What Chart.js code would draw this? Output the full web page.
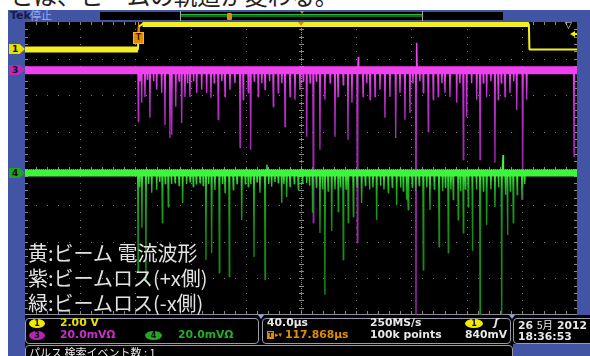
<!DOCTYPE html>
<html lang="ja">
<head>
<meta charset="utf-8">
<title>ビームロス波形</title>
<script src="https://cdn.jsdelivr.net/npm/chart.js@4.4.1/dist/chart.umd.min.js"></script>
<style>
  html, body { margin: 0; padding: 0; background: #fff; }
  #scope { position: relative; width: 590px; height: 356px; overflow: hidden; background: #fff; }
  #scope div, #scope span.abs { position: absolute; white-space: nowrap; }
  canvas { position: absolute; left: 0; top: 0; }
  .ui { font-family: "DejaVu Sans", sans-serif; font-weight: bold; font-size: 10.8px; line-height: 12px; }
  #caption { left: 10px; top: -17px; font: 23.5px/24px "Noto Sans CJK JP", sans-serif; color: #222; }
  #frame { left: 8px; top: 10px; width: 582px; height: 346px; background: #4254a4; }
  #statusBg { left: 25px; top: 315px; width: 565px; height: 29px; background: #000; }
  #statusBg2 { left: 25px; top: 343px; width: 488px; height: 13px; background: #000; }
  .box { border: 1px solid #9a9aa8; border-radius: 4px; background: #000; box-sizing: border-box; }
  .legend { left: 28px; font: 20px/24px "Noto Sans CJK JP", sans-serif; color: #e2e2e2; }
  .tag { width: 16px; height: 10px; font: bold 9px/10px "DejaVu Sans", sans-serif; color: #111; text-indent: 3px;
         clip-path: polygon(0 0, 66% 0, 100% 50%, 66% 100%, 0 100%); }
  .oval { height: 9px; border-radius: 50%; font: bold 8px/9px "DejaVu Sans", sans-serif; color: #111; text-align: center; }
</style>
</head>
<body>
<div id="scope">
  <div id="caption">とは、ビームの軌道が変わる。</div>
  <div id="frame"></div>
  <div id="statusBg"></div>
  <div id="statusBg2"></div>

  <!-- header: brand, run state, record view -->
  <div class="ui" style="left:10px;top:10px;color:#161b44;font-size:11px;">Tek</div>
  <div style="left:30px;top:9px;color:#9aaaf8;font:11px/13px 'Noto Sans CJK JP',sans-serif;">停止</div>
  <div style="left:100px;top:12px;width:403px;height:8px;background:#000;"></div>
  <div style="left:180px;top:11px;width:1px;height:10px;background:#a8a8a8;"></div>
  <div style="left:422px;top:11px;width:1px;height:10px;background:#a8a8a8;"></div>
  <div style="left:181px;top:14px;width:241px;height:1px;background:#36b036;"></div>
  <div style="left:181px;top:15px;width:241px;height:2px;background:#0e6e12;"></div>
  <div style="left:227px;top:13px;width:5px;height:7px;background:#e48c00;border-radius:1px;"></div>
  <div style="left:300px;top:11px;width:0;height:0;border-left:2px solid transparent;border-right:2px solid transparent;border-top:3px solid #e48c00;"></div>

  <!-- status boxes -->
  <div class="box" style="left:25px;top:318px;width:234px;height:26px;"></div>
  <div class="box" style="left:262px;top:318px;width:249px;height:26px;"></div>
  <div class="box" style="left:513px;top:318px;width:90px;height:26px;"></div>
  <div class="box" style="left:25px;top:345px;width:488px;height:20px;"></div>
  <div style="left:258px;top:315px;width:0;height:0;border-left:3px solid transparent;border-right:3px solid transparent;border-top:4px solid #8f9de8;"></div>
  <div style="left:509px;top:315px;width:0;height:0;border-left:3px solid transparent;border-right:3px solid transparent;border-top:4px solid #8f9de8;"></div>

  <canvas id="screen" width="590" height="356"></canvas>

  <!-- waveform captions -->
  <div class="legend" style="top:241px;">黄:ビーム 電流波形</div>
  <div class="legend" style="top:266px;">紫:ビームロス(+x側)</div>
  <div class="legend" style="top:291px;">緑:ビームロス(-x側)</div>

  <!-- channel ground markers (placed from the y scale) -->
  <div class="tag" id="tag1" style="left:9px;background:#e6e000;">1</div>
  <div class="tag" id="tag3" style="left:9px;background:#b82cb8;">3</div>
  <div class="tag" id="tag4" style="left:9px;background:#24a024;">4</div>

  <!-- trigger markers -->
  <div id="trigStem" style="top:22px;width:1px;height:10px;background:#e48c00;"></div>
  <div id="trigT" class="ui" style="top:32px;width:9px;height:10px;background:#e48c00;border:1px solid #ffb030;color:#3a2000;font-size:8px;line-height:10px;text-align:center;">T</div>
  <div id="expand" style="top:22px;width:0;height:0;border-left:3px solid transparent;border-right:3px solid transparent;border-top:4px solid #e48c00;"></div>
  <div style="left:565px;top:20px;color:#e8e8e8;font:9px/10px 'DejaVu Sans',sans-serif;">▽</div>
  <div id="trigLevel" style="left:570px;width:0;height:0;border-top:3px solid transparent;border-bottom:3px solid transparent;border-right:5px solid #f0f000;"></div>
  <div id="trigLevelBar" style="left:574px;width:3px;height:2px;background:#f0f000;"></div>

  <!-- vertical settings -->
  <div class="oval" style="left:29px;top:319px;width:16px;background:#f0ec00;">1</div>
  <div class="ui" style="left:60px;top:317px;color:#e6e200;">2.00 V</div>
  <div class="oval" style="left:29px;top:331px;width:16px;background:#b424b4;">3</div>
  <div class="ui" style="left:60px;top:329px;color:#cc2ccc;">20.0mVΩ</div>
  <div class="oval" style="left:145px;top:331px;width:17px;background:#22a822;">4</div>
  <div class="ui" style="left:178px;top:329px;color:#22b022;">20.0mVΩ</div>

  <!-- horizontal and trigger settings -->
  <div class="ui" style="left:267px;top:317px;color:#e8e8e8;">40.0µs</div>
  <div class="ui" style="left:370px;top:317px;color:#e8e8e8;">250MS/s</div>
  <div class="oval" style="left:465px;top:319px;width:18px;background:#f0ec00;">1</div>
  <div class="ui" style="left:494px;top:317px;color:#e8e8e8;font-style:italic;">ʃ</div>
  <div class="ui" style="left:267px;top:331px;width:7px;height:8px;background:#e48c00;color:#2a1800;font-size:7px;line-height:8px;text-align:center;">T</div>
  <div class="ui" style="left:275px;top:329px;color:#e48c00;font-size:7px;">▸▾</div>
  <div class="ui" style="left:285px;top:329px;color:#e48c00;">117.868µs</div>
  <div class="ui" style="left:370px;top:329px;color:#e8e8e8;">100k points</div>
  <div class="ui" style="left:465px;top:329px;color:#e8e8e8;">840mV</div>

  <!-- date / time -->
  <div class="ui" style="left:518px;top:317px;color:#e8e8e8;">26 <span style="font:10.5px 'Noto Sans CJK JP',sans-serif;">5月</span>  2012</div>
  <div class="ui" style="left:518px;top:331px;color:#e8e8e8;">18:36:53</div>

  <div style="left:29px;top:346px;color:#e8e8e8;font:11px/12px 'Noto Sans CJK JP',sans-serif;">パルス 検索イベント数 : 1</div>
</div>

<script>
// Timebase: 40 µs/div over 10 divisions, trigger point 117.868 µs left of centre
const TIME_PER_DIV_US = 40;
const TRIGGER_POSITION_US = 117.868;
const X_MIN = TRIGGER_POSITION_US - 5 * TIME_PER_DIV_US;
const X_MAX = TRIGGER_POSITION_US + 5 * TIME_PER_DIV_US;

// Vertical settings (divisions from screen centre for each channel's ground)
const CH1_VOLTS_PER_DIV = 2.0;
const CH3_MV_PER_DIV = 20;
const CH4_MV_PER_DIV = 20;
const CH1_OFFSET_DIV = 3.25;
const CH3_OFFSET_DIV = 2.68;
const CH4_OFFSET_DIV = -0.12;
const TRIGGER_LEVEL_V = 0.84;

// Ch1: beam current pulse
const yellowTimesUs = [X_MIN, -0.3, 0.3, 3.0, 283.0, 283.4, X_MAX];
const yellowVolts   = [0, 0, 1.25, 1.39, 1.39, 0, 0];

// Ch3: beam loss, +x side (spike times and peak levels)
const magentaSpikeTimesUs = [
  0.0, 1.2, 2.4, 4.8, 6.5, 8.4, 11.0, 13.3, 16.9, 19.3, 22.9, 24.2, 27.1, 29.5, 31.4, 33.8, 35.6, 37.4, 40.0, 42.3,
  45.9, 49.5, 52.6, 55.0, 57.9, 60.5, 62.8, 66.4, 70.0, 73.7, 76.0, 79.7, 81.4, 84.0, 86.9, 89.5, 91.8, 95.0, 97.8,
  101.4, 104.0, 106.3, 109.9, 113.5, 117.1, 119.5, 122.0, 124.5, 126.8, 129.0, 131.6, 135.2, 139.0, 142.5, 144.7,
  148.5, 151.9, 154.8, 158.7, 159.4, 162.8, 165.5, 167.9, 171.5, 175.1, 178.7, 182.3, 186.5, 189.6, 193.2, 196.8,
  199.0, 201.2, 201.8, 204.0, 206.5, 210.1, 213.7, 217.3, 220.0, 222.2, 225.8, 230.7, 233.0, 235.5, 237.9, 241.5,
  245.2, 247.6, 250.0, 252.4, 255.5, 258.4, 260.8, 263.0, 265.7, 269.3, 272.0, 274.2, 278.5, 281.4, 315.7
];
const magentaSpikeMv = [
  -28.1, -6, -17.7, -14.5, -5, -25.9, -6, -10.6, -12.3, -29.8, -36.9, -35.2, -19.9, -6, -28.7, -14.5, -7, -14.5, -6, -12.3,
  -10.6, -12.3, -15.0, -7, -27.0, -6, -14.5, -10.6, -7, -42.3, -16.1, -12.3, -43.4, -6, -14.5, -7, -10.6, -6, -19.9,
  -12.3, -7, -30.8, -14.5, -16.1, -10.6, -6, -36.3, -7, -83.3, -6, -43.4, -16.1, -7, -36.3, -14.5,
  -8, -37.9, -17.7, -94.2, 7.4, -14.5, -7, -16.1, -14.5, -10.6, -25.9, -14.5, -36.9, -12.3, -27.0, -23.2,
  -7, -140, 15.0, -6, -12.3, -33.6, -16.1, -14.5, -7, -12.3, -14.5, -17.7, -7, -48.9, -25.4, -7,
  -16.1, -48.9, -7, -14.5, -6, -50.5, -16.1, -7, -14.5, -12.3, -6, -21.6, -70.7, -16.1, -47.2
];

// Ch4: beam loss, -x side
const greenSpikeTimesUs = [
  -0.2, 1.0, 2.6, 5.5, 7.5, 9.7, 13.3, 15.5, 17.4, 19.5, 21.7, 24.0, 26.6, 29.5, 32.1, 35.0, 37.5, 39.8, 42.0, 44.7,
  47.0, 49.0, 51.0, 53.1, 55.5, 58.7, 61.0, 62.8, 65.9, 68.8, 71.5, 74.9, 77.5, 79.7, 81.5, 83.8, 86.0, 88.1, 91.8,
  93.2, 94.5, 96.6, 99.0, 101.4, 103.9, 105.5, 107.5, 109.9, 113.0, 115.9, 119.0, 122.0, 124.0, 126.3, 129.0, 131.6,
  133.5, 135.2, 137.5, 140.1, 142.5, 144.9, 146.5, 148.5, 150.5, 152.1, 155.8, 158.5, 161.8, 164.5, 167.5, 170.0,
  172.7, 175.5, 178.0, 181.1, 184.0, 187.2, 190.0, 192.0, 194.4, 195.6, 198.5, 201.0, 203.5, 206.5, 209.0, 211.3,
  214.5, 217.9, 220.5, 222.5, 224.6, 226.5, 228.2, 231.8, 233.5, 235.5, 237.0, 239.1, 242.1, 245.0, 247.6, 250.0,
  252.4, 255.5, 258.4, 261.0, 263.3, 264.3, 266.0, 267.5, 269.5, 271.7, 274.5, 278.0, 280.0
];
const greenSpikeMv = [
  -54.1, -8, -30.0, -58.4, -6, -10.9, -9.3, -5, -27.3, -6, -18.6, -6, -5.5, -7, -16.4, -6, -5, -7.6, -6, -5.5,
  -7, -47.5, -6, -43.7, -9.3, -54.6, -6, -10.9, -56.8, -9.3, -6, -25.7, -6, -7.6, -6, -45.9, -5, -10.9, -58.4,
  4.4, -6, -7.6, -5, -5.5, -16.4, -6, -13.1, -7.6, -6, -9.3, -6, -5.5, -7, -21.8, -8, -32.8,
  -9, -66.6, -10, -31.7, -9, -21.3, -8, -47.5, -9, -27.3, -24.0, -8, -16.4, -7, -9, -8,
  -25.7, -7, -9, -10.9, -8, -17.5, -8, -10, -14.7, -20.2, -8, -10, -7, -53.0, -8, -20.2,
  -9, -40.4, -10, -8, -43.7, -9, -14.7, -25.7, -10, -32.8, -9, -18.6, -42.6, -9, -80, -10,
  -28.4, -9, -18.6, -8, -80, 9.8, -12, -33.9, -10, -27.3, -12, -14.7, -6
];

// Each spike is drawn as a narrow down-and-back excursion from the channel's ground level
function spikeTrace(times, levels, offsetDiv, perDiv) {
  const pts = [{ x: X_MIN, y: offsetDiv }];
  times.forEach((t, i) => {
    pts.push({ x: t - 0.3, y: offsetDiv },
             { x: t, y: offsetDiv + levels[i] / perDiv },
             { x: t + 0.3, y: offsetDiv });
  });
  pts.push({ x: X_MAX, y: offsetDiv });
  return pts;
}

const yellowTrace = yellowTimesUs.map((t, i) => ({ x: t, y: CH1_OFFSET_DIV + yellowVolts[i] / CH1_VOLTS_PER_DIV }));
// thick flat levels only; the edges stay thin
const yellowLevels = yellowTrace.map((p, i) => (i === 2 || i === 5) ? { x: p.x, y: null } : p);

function spikeGradient(offsetDiv, colors, reach) {
  return (ctx) => {
    const chart = ctx.chart;
    if (!chart.chartArea) return colors[1];
    const base = chart.scales.y.getPixelForValue(offsetDiv);
    const g = chart.ctx.createLinearGradient(0, base, 0, base + reach);
    g.addColorStop(0, colors[0]);
    g.addColorStop(0.3, colors[1]);
    g.addColorStop(1, colors[2]);
    return g;
  };
}

const graticule = {
  id: 'graticule',
  beforeDraw(chart) {
    const { ctx, chartArea: a, scales: { x, y } } = chart;
    ctx.save();
    ctx.fillStyle = '#000';
    ctx.fillRect(a.left, a.top, a.width, a.height);
    const dx = a.width / 10, dy = a.height / 8;
    ctx.fillStyle = 'rgba(125,125,125,0.95)';
    for (let i = 1; i < 10; i++) {
      if (i === 5) continue;
      const px = Math.round(x.getPixelForValue(X_MIN + i * TIME_PER_DIV_US));
      for (let k = 1; k < 40; k++) ctx.fillRect(px, Math.round(a.top + k * dy / 5), 1, 1);
    }
    for (let j = -3; j <= 3; j++) {
      if (j === 0) continue;
      const py = Math.round(y.getPixelForValue(j));
      for (let k = 1; k < 50; k++) ctx.fillRect(Math.round(a.left + k * dx / 5), py, 1, 1);
    }
    // centre cross with minor ticks
    const cx = Math.round(x.getPixelForValue(TRIGGER_POSITION_US));
    const cy = Math.round(y.getPixelForValue(0));
    ctx.fillStyle = 'rgba(150,150,150,0.9)';
    for (let py = a.top; py < a.bottom; py += 2) ctx.fillRect(cx, Math.round(py), 1, 1);
    for (let px = a.left; px < a.right; px += 2) ctx.fillRect(Math.round(px), cy, 1, 1);
    for (let k = 1; k < 40; k++) ctx.fillRect(cx - 2, Math.round(a.top + k * dy / 5), 5, 1);
    for (let k = 1; k < 50; k++) ctx.fillRect(Math.round(a.left + k * dx / 5), cy - 2, 1, 5);
    // edge ticks
    for (let k = 1; k < 50; k++) {
      const px = Math.round(a.left + k * dx / 5);
      ctx.fillRect(px, a.top, 1, 3);
      ctx.fillRect(px, a.bottom - 4, 1, 3);
    }
    for (let k = 1; k < 40; k++) {
      const py = Math.round(a.top + k * dy / 5);
      ctx.fillRect(a.left, py, 3, 1);
      ctx.fillRect(a.right - 3, py, 3, 1);
    }
    ctx.fillStyle = '#8e8e9a';
    ctx.fillRect(a.left, a.bottom - 1, a.width, 1);
    ctx.restore();
  }
};

const chart = new Chart(document.getElementById('screen'), {
  type: 'line',
  data: {
    datasets: [
      { data: yellowTrace, borderColor: '#f4f020', borderWidth: 2 },
      { data: yellowLevels, borderColor: '#f4f020', borderWidth: 6, spanGaps: false },
      { data: [{ x: X_MIN, y: CH4_OFFSET_DIV }, { x: X_MAX, y: CH4_OFFSET_DIV }], borderColor: '#3cf53c', borderWidth: 7 },
      { data: spikeTrace(greenSpikeTimesUs, greenSpikeMv, CH4_OFFSET_DIV, CH4_MV_PER_DIV),
        borderColor: spikeGradient(CH4_OFFSET_DIV, ['#44f044', '#20a820', '#178a17'], 60), borderWidth: 1.4 },
      { data: [{ x: X_MIN, y: CH3_OFFSET_DIV }, { x: X_MAX, y: CH3_OFFSET_DIV }], borderColor: '#f040f0', borderWidth: 8 },
      { data: spikeTrace(magentaSpikeTimesUs, magentaSpikeMv, CH3_OFFSET_DIV, CH3_MV_PER_DIV),
        borderColor: spikeGradient(CH3_OFFSET_DIV, ['#f048f0', '#c030d0', '#a028b0'], 80), borderWidth: 1.4 }
    ]
  },
  options: {
    responsive: false,
    devicePixelRatio: 1,
    animation: false,
    layout: { padding: { left: 25, top: 22, right: 13, bottom: 41 } },
    elements: { point: { radius: 0 }, line: { tension: 0, borderJoinStyle: 'bevel' } },
    scales: {
      x: { type: 'linear', min: X_MIN, max: X_MAX, display: false },
      y: { type: 'linear', min: -4, max: 4, display: false }
    },
    plugins: { legend: { display: false }, tooltip: { enabled: false } }
  },
  plugins: [graticule]
});

// markers that follow the scales
const ys = chart.scales.y, xs = chart.scales.x;
const place = (id, top) => { document.getElementById(id).style.top = top + 'px'; };
place('tag1', Math.round(ys.getPixelForValue(CH1_OFFSET_DIV)) - 5);
place('tag3', Math.round(ys.getPixelForValue(CH3_OFFSET_DIV)) - 5);
place('tag4', Math.round(ys.getPixelForValue(CH4_OFFSET_DIV)) - 5);
const trigPx = Math.round(xs.getPixelForValue(0));
document.getElementById('trigStem').style.left = trigPx + 'px';
document.getElementById('trigT').style.left = (trigPx - 5) + 'px';
document.getElementById('expand').style.left = (Math.round(xs.getPixelForValue(TRIGGER_POSITION_US)) - 3) + 'px';
const levelPx = Math.round(ys.getPixelForValue(CH1_OFFSET_DIV + TRIGGER_LEVEL_V / CH1_VOLTS_PER_DIV));
place('trigLevel', levelPx - 3);
place('trigLevelBar', levelPx - 1);
</script>
</body>
</html>
